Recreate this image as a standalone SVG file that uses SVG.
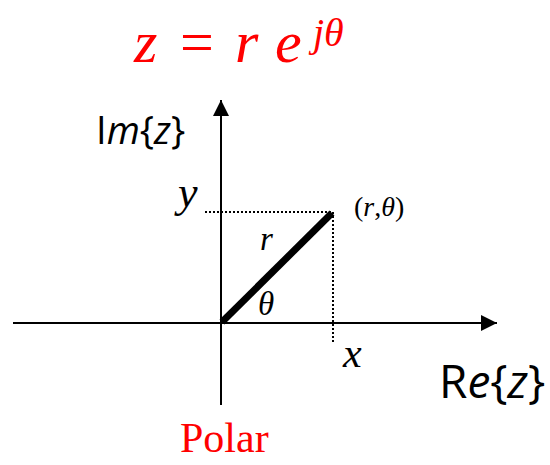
<svg xmlns="http://www.w3.org/2000/svg" width="550" height="465" viewBox="0 0 550 465">
<style>
.serif{font-family:"Liberation Serif","Times New Roman",serif;}
.sans{font-family:"Open Sans","Liberation Sans",Arial,sans-serif;}
.it{font-style:italic;}
.red{fill:#ff0000;}
.axis{stroke:#000;stroke-width:2;fill:none;}
.dot{stroke:#000;stroke-width:2;stroke-dasharray:2 2;fill:none;}
</style>
<defs>
<marker id="arr" viewBox="0 0 10 10" refX="10" refY="5" markerWidth="16" markerHeight="16" markerUnits="userSpaceOnUse" orient="auto">
<path d="M0,0 L10,5 L0,10 Z" fill="#000"/>
</marker>
</defs>
<g id="title">
<text class="serif red" y="62" font-size="60"><tspan class="it" x="134">z</tspan><tspan x="180">=</tspan><tspan class="it" x="235">r</tspan><tspan class="it" x="275">e</tspan><tspan class="it" x="313" y="46" font-size="40">jθ</tspan></text>
</g>
<g id="connectors">
<line class="axis" x1="13" y1="323" x2="497" y2="323" marker-end="url(#arr)"/>
<line class="axis" x1="221" y1="405" x2="221" y2="100" marker-end="url(#arr)"/>
<line class="dot" x1="205" y1="212" x2="333" y2="212"/>
<line class="dot" x1="333" y1="212" x2="333" y2="342"/>
<line x1="222" y1="322" x2="332" y2="213" stroke="#000" stroke-width="7"/>
</g>
<g id="labels">
<text class="sans" x="96" y="144" font-size="38">I<tspan class="it">m</tspan>{<tspan class="it">z</tspan>}</text>
<text class="serif it" x="178" y="207" font-size="44">y</text>
<text class="serif" x="354" y="216" font-size="28">(<tspan class="it">r</tspan>,<tspan class="it">θ</tspan>)</text>
<text class="serif it" x="260" y="250" font-size="33">r</text>
<text class="serif it" x="258" y="315" font-size="33">θ</text>
<text class="serif it" x="343" y="367" font-size="42">x</text>
<text class="sans" x="439" y="398" font-size="46">R<tspan class="it">e</tspan>{<tspan class="it">z</tspan>}</text>
<text class="serif red" x="180" y="452" font-size="42">Polar</text>
</g>
</svg>
